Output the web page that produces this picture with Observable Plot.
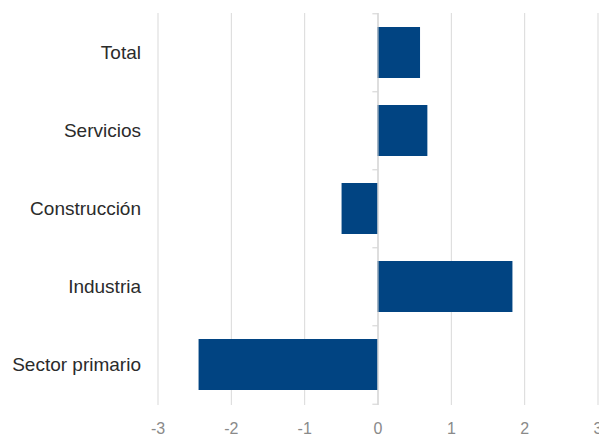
<!DOCTYPE html>
<html>
<head>
<meta charset="utf-8">
<script src="https://cdn.jsdelivr.net/npm/d3@7"></script>
<script src="https://cdn.jsdelivr.net/npm/@observablehq/plot@0.6"></script>
<style>
  html, body { margin: 0; padding: 0; background: #fff; overflow: hidden; }
  #chart svg { display: block; font-family: "Liberation Sans", Arial, sans-serif; }
</style>
</head>
<body>
<div id="chart"></div>
<script>
const categories = ["Total", "Servicios", "Construcción", "Industria", "Sector primario"];
const values = [0.58, 0.68, -0.49, 1.84, -2.44];
const xTicks = [-3, -2, -1, 0, 1, 2, 3];

const data = categories.map((c, i) => ({cat: c, value: values[i]}));

const W = 599, H = 437, mTop = 13, mBottom = 32, mLeft = 157.5, mRight = 1.5;
const step = (H - mTop - mBottom) / categories.length;

const plot = Plot.plot({
  width: W,
  height: H,
  marginTop: mTop,
  marginBottom: mBottom,
  marginLeft: mLeft,
  marginRight: mRight,
  style: {background: "#fff", overflow: "visible"},
  x: {domain: [-3, 3], ticks: xTicks},
  y: {domain: categories, paddingInner: 0.34, paddingOuter: 0.17},
  marks: [
    Plot.ruleX(xTicks, {stroke: "#d9d9d9", strokeWidth: 1}),
    Plot.barX(data, {y: "cat", x: "value", fill: "#014482"}),
    Plot.ruleY(categories, {y: d => d, x1: 0, x2: -0.07, dy: -step / 2, stroke: "#d0d0d0"}),
    Plot.ruleY(categories.slice(-1), {y: d => d, x1: 0, x2: -0.07, dy: step / 2, stroke: "#d0d0d0"}),
    Plot.ruleX([0], {stroke: "#d0d0d0", strokeWidth: 1}),
    Plot.axisX({ticks: xTicks, tickSize: 0, tickPadding: 17, fontSize: 16, fill: "#8a8a8a", label: null, tickFormat: d => String(d).replace("−", "-")}),
    Plot.axisY({tickSize: 0, tickPadding: 17, fontSize: 19, fill: "#2b2b2b", label: null})
  ]
});
document.getElementById("chart").appendChild(plot);
</script>
</body>
</html>
